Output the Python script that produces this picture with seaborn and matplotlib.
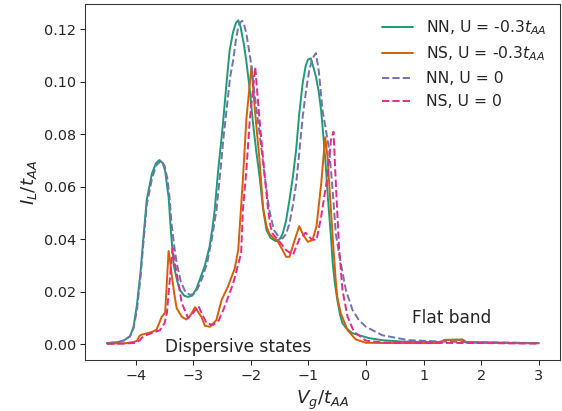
import numpy as np
import pandas as pd
import matplotlib
matplotlib.use("Agg")
import matplotlib.pyplot as plt
import seaborn as sns

# NN, U = -0.3 t_AA
nn_u03_x = [-4.5, -4.3, -4.2, -4.1, -4.04, -3.98, -3.92, -3.87, -3.81, -3.72, -3.65, -3.59,
            -3.53, -3.49, -3.43, -3.39, -3.34, -3.28, -3.23, -3.16, -3.10, -3.02, -2.95, -2.89,
            -2.80, -2.72, -2.67, -2.63, -2.57, -2.49, -2.43, -2.37, -2.31, -2.26, -2.22, -2.18,
            -2.12, -2.08, -2.02, -1.97, -1.91, -1.85, -1.79, -1.73, -1.66, -1.57, -1.50, -1.45,
            -1.39, -1.33, -1.27, -1.215, -1.16, -1.10, -1.05, -1.01, -0.96, -0.92, -0.87, -0.82,
            -0.78, -0.74, -0.70, -0.66, -0.61, -0.58, -0.54, -0.50, -0.45, -0.41, -0.35, -0.24,
            -0.12, 0.05, 0.28, 0.6, 1.0, 1.3, 1.36, 1.68, 1.74, 2.0, 2.5, 3.0]
nn_u03_y = [0.0004, 0.0008, 0.0015, 0.003, 0.0065, 0.015, 0.027, 0.040, 0.055, 0.065, 0.069, 0.0702,
            0.069, 0.066, 0.056, 0.043, 0.030, 0.024, 0.0205, 0.0185, 0.018, 0.0185, 0.021, 0.0245,
            0.030, 0.037, 0.044, 0.051, 0.066, 0.083, 0.098, 0.112, 0.119, 0.1225, 0.1235, 0.121,
            0.114, 0.108, 0.097, 0.0855, 0.074, 0.064, 0.052, 0.0435, 0.0405, 0.0393, 0.040, 0.042,
            0.047, 0.055, 0.064, 0.074, 0.088, 0.0996, 0.106, 0.1085, 0.109, 0.106, 0.102, 0.096,
            0.089, 0.079, 0.068, 0.055, 0.041, 0.031, 0.023, 0.017, 0.011, 0.008, 0.0062, 0.0042,
            0.0034, 0.0023, 0.0015, 0.001, 0.0008, 0.0008, 0.0016, 0.0017, 0.0008, 0.0007, 0.0005, 0.0004]

# NS, U = -0.3 t_AA
ns_u03_x = [-4.5, -4.2, -4.04, -3.98, -3.94, -3.90, -3.81, -3.70, -3.64, -3.55, -3.49, -3.43,
            -3.40, -3.38, -3.33, -3.29, -3.20, -3.12, -3.05, -2.97, -2.91, -2.86, -2.80, -2.71,
            -2.60, -2.51, -2.40, -2.28, -2.22, -2.19, -2.14, -2.08, -1.99, -1.93, -1.85, -1.79,
            -1.73, -1.68, -1.53, -1.45, -1.39, -1.33, -1.24, -1.16, -1.09, -1.01, -0.93, -0.86,
            -0.81, -0.78, -0.71, -0.67, -0.61, -0.565, -0.525, -0.50, -0.44, -0.32, -0.18, 0.0,
            0.5, 1.3, 1.36, 1.68, 1.74, 2.0, 3.0]
ns_u03_y = [0.0002, 0.0003, 0.0008, 0.0012, 0.003, 0.0036, 0.0041, 0.0048, 0.0055, 0.0104, 0.012, 0.0355,
            0.031, 0.027, 0.019, 0.0137, 0.0104, 0.0094, 0.011, 0.0141, 0.012, 0.0104, 0.007, 0.0066,
            0.0092, 0.0168, 0.0219, 0.0289, 0.036, 0.046, 0.0626, 0.0855, 0.106, 0.089, 0.070, 0.052,
            0.045, 0.042, 0.039, 0.0359, 0.0333, 0.0333, 0.0397, 0.045, 0.0416, 0.039, 0.0397, 0.045,
            0.055, 0.061, 0.0789, 0.0715, 0.051, 0.036, 0.024, 0.018, 0.0118, 0.0053, 0.0018, 0.0005,
            0.0004, 0.0004, 0.0016, 0.0017, 0.0006, 0.0005, 0.0003]

# NN, U = 0
nn_u0_x = [-4.5, -4.3, -4.2, -4.1, -4.04, -3.98, -3.92, -3.87, -3.81, -3.72, -3.65, -3.56,
           -3.50, -3.45, -3.41, -3.38, -3.33, -3.29, -3.22, -3.14, -3.06, -3.00, -2.93, -2.85,
           -2.76, -2.68, -2.60, -2.53, -2.48, -2.43, -2.36, -2.31, -2.26, -2.22, -2.18, -2.15,
           -2.12, -2.08, -2.04, -1.99, -1.94, -1.88, -1.82, -1.76, -1.68, -1.60, -1.52, -1.45,
           -1.39, -1.33, -1.27, -1.215, -1.16, -1.10, -1.04, -0.985, -0.93, -0.87, -0.82, -0.755,
           -0.70, -0.64, -0.58, -0.525, -0.48, -0.44, -0.35, -0.235, -0.12, 0.0, 0.28, 0.74,
           1.3, 2.0, 3.0]
nn_u0_y = [0.0003, 0.0008, 0.0014, 0.003, 0.006, 0.013, 0.025, 0.038, 0.053, 0.063, 0.068, 0.070,
           0.068, 0.063, 0.055, 0.046, 0.037, 0.031, 0.024, 0.020, 0.0188, 0.019, 0.021, 0.025,
           0.031, 0.040, 0.051, 0.066, 0.078, 0.088, 0.102, 0.108, 0.116, 0.121, 0.1228, 0.1233,
           0.122, 0.1186, 0.113, 0.106, 0.096, 0.0855, 0.075, 0.064, 0.051, 0.0435, 0.041, 0.0403,
           0.042, 0.046, 0.053, 0.061, 0.073, 0.0868, 0.097, 0.1046, 0.109, 0.111, 0.104, 0.089,
           0.082, 0.074, 0.0588, 0.042, 0.036, 0.031, 0.0206, 0.013, 0.009, 0.0066, 0.0034, 0.0015,
           0.001, 0.0007, 0.0004]

# NS, U = 0
ns_u0_x = [-4.5, -4.2, -4.0, -3.93, -3.87, -3.75, -3.58, -3.50, -3.46, -3.42, -3.36, -3.33,
           -3.29, -3.20, -3.09, -3.00, -2.91, -2.84, -2.77, -2.66, -2.56, -2.48, -2.31, -2.17,
           -2.14, -2.08, -2.02, -1.925, -1.85, -1.76, -1.70, -1.66, -1.62, -1.50, -1.39, -1.27,
           -1.16, -1.05, -0.95, -0.86, -0.78, -0.67, -0.61, -0.565, -0.525, -0.47, -0.41, -0.32,
           -0.21, 0.0, 0.3, 1.0, 2.0, 3.0]
ns_u0_y = [0.0001, 0.0002, 0.0005, 0.0015, 0.003, 0.004, 0.0053, 0.008, 0.0118, 0.022, 0.0365, 0.032,
           0.027, 0.0156, 0.0099, 0.012, 0.0145, 0.011, 0.008, 0.0073, 0.009, 0.013, 0.023, 0.0347,
           0.051, 0.066, 0.0855, 0.1056, 0.0855, 0.064, 0.051, 0.045, 0.042, 0.039, 0.0359, 0.034,
           0.040, 0.0425, 0.040, 0.0397, 0.0486, 0.064, 0.0779, 0.081, 0.0614, 0.037, 0.0206, 0.0104,
           0.0047, 0.0013, 0.0006, 0.0005, 0.0004, 0.0002]

series = [
    (nn_u03_x, nn_u03_y, r'NN, U = -0.3$t_{AA}$', '-'),
    (ns_u03_x, ns_u03_y, r'NS, U = -0.3$t_{AA}$', '-'),
    (nn_u0_x, nn_u0_y, 'NN, U = 0', '--'),
    (ns_u0_x, ns_u0_y, 'NS, U = 0', '--'),
]

sns.set_style('ticks')
plt.rcParams['font.family'] = ['DejaVu Sans']
plt.rcParams['mathtext.fontset'] = 'dejavusans'

colors = sns.color_palette('Dark2', 4)

dpi = 94
fig, ax = plt.subplots(figsize=(562 / dpi, 411 / dpi), dpi=dpi)
fig.subplots_adjust(left=0.152, right=0.997, bottom=0.124, top=0.990)

for (xs, ys, lab, ls), c in zip(series, colors):
    df = pd.DataFrame({'Vg': xs, 'IL': ys})
    sns.lineplot(data=df, x='Vg', y='IL', ax=ax, color=c, linestyle=ls,
                 linewidth=1.5, label=lab, sort=False, errorbar=None)

ax.set_xlabel(r'$V_g/t_{AA}$', fontsize=14)
ax.set_ylabel(r'$I_L/t_{AA}$', fontsize=14)
ax.tick_params(labelsize=11)
ax.set_yticks([0.00, 0.02, 0.04, 0.06, 0.08, 0.10, 0.12])
ax.set_xticks([-4, -3, -2, -1, 0, 1, 2, 3])
ax.yaxis.set_major_formatter(matplotlib.ticker.FormatStrFormatter('%.2f'))
for s in ax.spines.values():
    s.set_edgecolor('#333333')

ax.text(-3.5, -0.003, 'Dispersive states', fontsize=13)
ax.text(0.8, 0.008, 'Flat band', fontsize=13)

ax.legend(loc='upper right', frameon=False, fontsize=12)

fig.savefig('out.png', dpi=dpi)
